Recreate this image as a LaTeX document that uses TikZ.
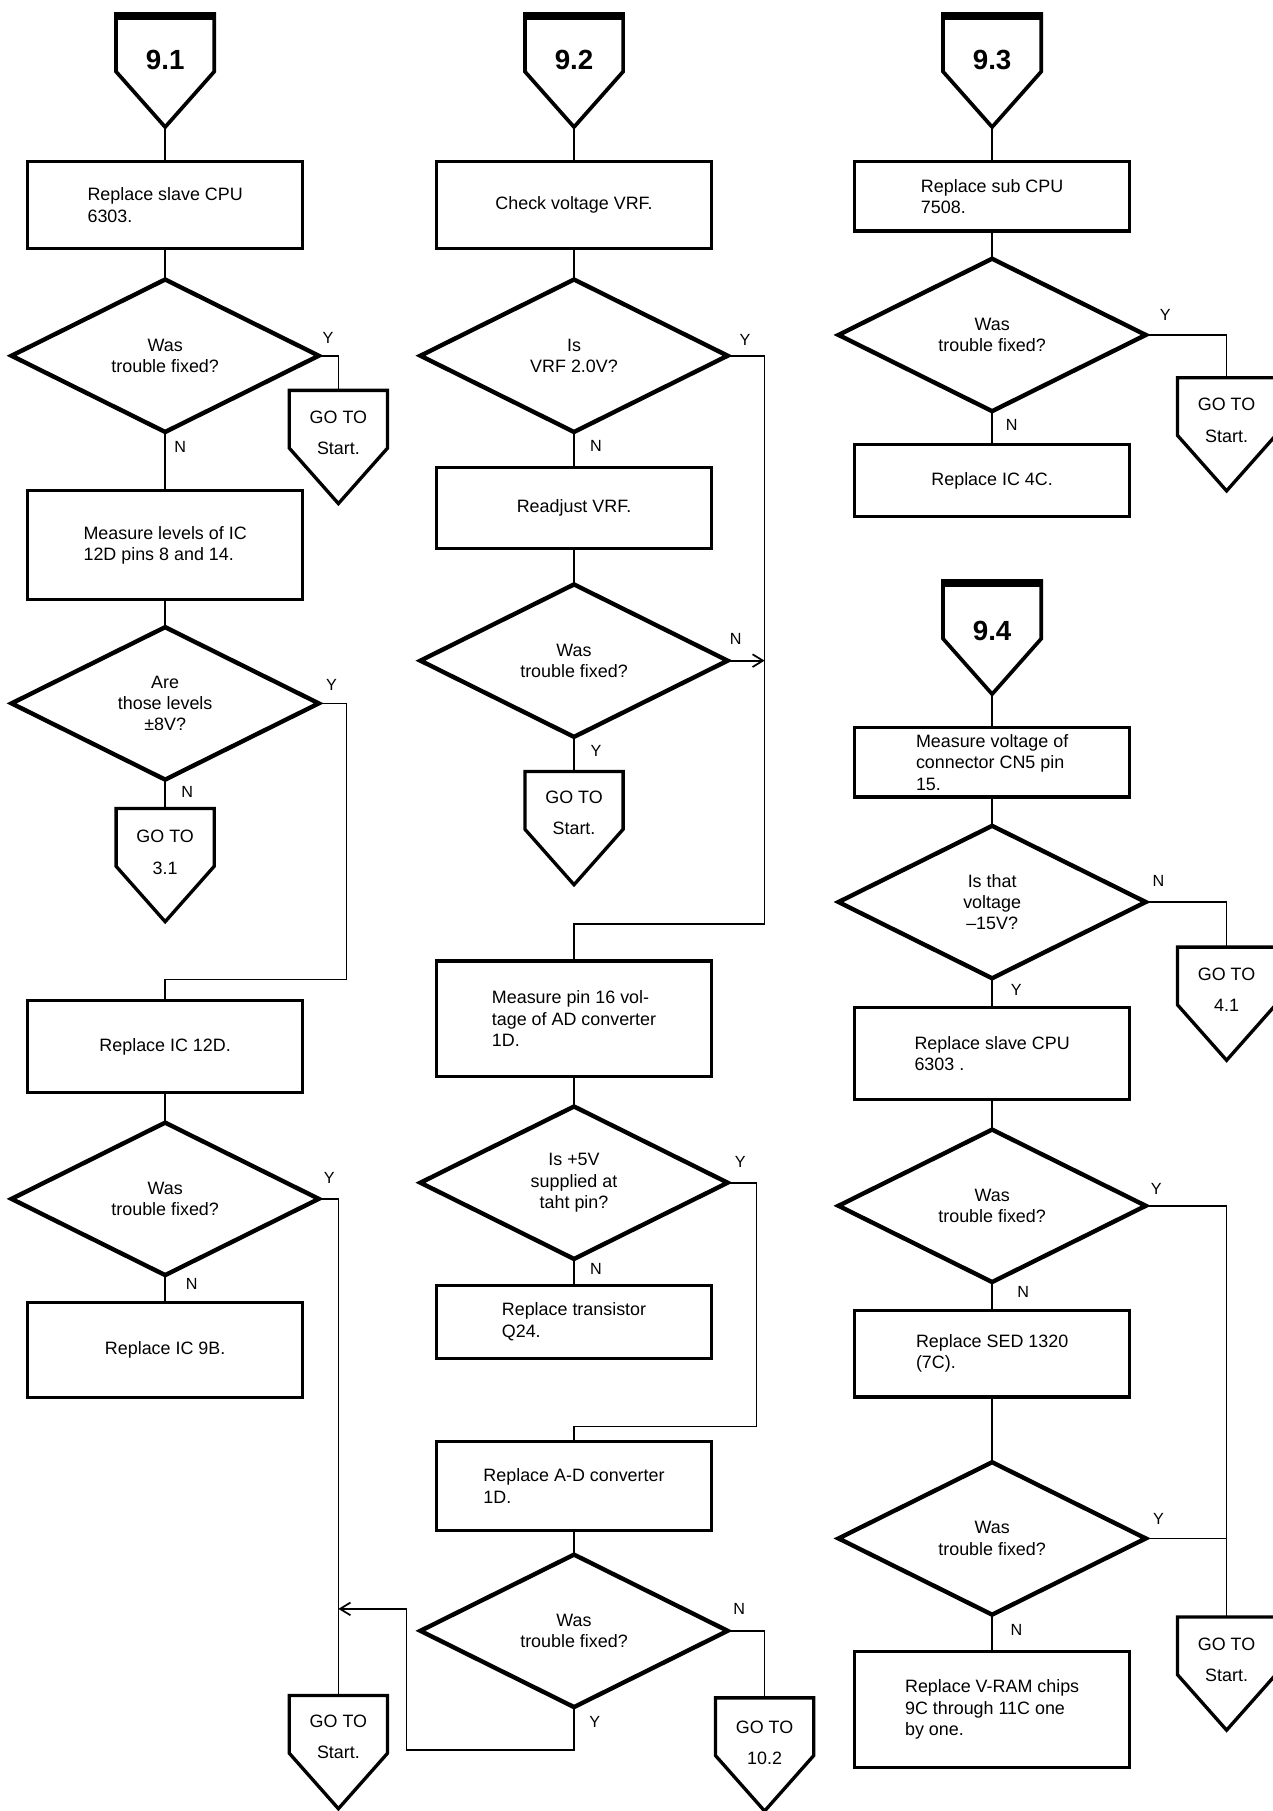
\documentclass[tikz,border=0pt]{standalone}
\usepackage{fontspec}
\setmainfont{Liberation Sans}
\usetikzlibrary{shapes.geometric,arrows.meta,calc}
\newcommand{\pentdraw}[2][]{%
  \draw[pentline,#1] (#2.north west) -- ($(#2.north west)+(0,50)$) -- (#2.south) -- ($(#2.north east)+(0,50)$) -- (#2.north east) -- cycle;}
\newcommand{\headtop}[1]{\draw[line width=6pt] ($(#1.north west)+(-1.5,2)$) -- ($(#1.north east)+(1.5,2)$);}
\begin{document}
\begin{tikzpicture}[x=1pt,y=-1pt,
  every node/.style={font=\fontsize{15.5}{18.5}\selectfont},
  box/.style={draw, line width=2.8pt, minimum width=238, inner sep=0, outer sep=0, align=left},
  dec/.style={draw, diamond, aspect=2, line width=3.8pt, minimum width=266, minimum height=132, inner sep=0, outer sep=0, align=center},
  pentbox/.style={minimum width=85, minimum height=98, inner sep=0, outer sep=0, anchor=north},
  pentline/.style={line width=2.9pt, line join=miter},
  headtxt/.style={font=\bfseries\fontsize{24}{28}\selectfont},
  gotxt/.style={align=center, font=\fontsize{15.5}{27}\selectfont},
  conn/.style={line width=1.5pt},
  arr/.style={-{Straight Barb[length=9pt,width=11pt,line width=1.5pt]}},
  lbl/.style={font=\fontsize{14}{16}\selectfont}
]
\fill[white] (0,0) rectangle (1102,1568);
\useasboundingbox (0,0) rectangle (1102,1568);

% ================= Column 1 (9.1) =================
\node[pentbox] (p91) at (143,12) {};
\pentdraw[line width=3.2pt]{p91}\headtop{p91}
\node[headtxt] (p91t) at ($(p91.north)+(0,40)$) {9.1};

\node[box, minimum height=75] (a1) at (143,177.5) {Replace slave CPU\\6303.};
\node[dec] (d1) at (143,308) {Was\\trouble fixed?};
\node[pentbox] (g1) at (293,338) {};
\pentdraw{g1}
\node[gotxt] (g1t) at ($(g1.north)+(0,37)$) {GO TO\\Start.};
\node[box, minimum height=94] (a2) at (143,472) {Measure levels of IC\\12D pins 8 and 14.};
\node[dec] (d2) at (143,609) {Are\\those levels\\±8V?};
\node[pentbox] (g2) at (143,700) {};
\pentdraw{g2}
\node[gotxt] (g2t) at ($(g2.north)+(0,38)$) {GO TO\\3.1};
\node[box, minimum height=80] (a3) at (143,906) {Replace IC 12D.};
\node[dec] (d3) at (143,1038) {Was\\trouble fixed?};
\node[box, minimum height=82] (a4) at (143,1169) {Replace IC 9B.};
\node[pentbox] (g3) at (293,1468) {};
\pentdraw{g3}
\node[gotxt] (g3t) at ($(g3.north)+(0,36)$) {GO TO\\Start.};

\coordinate (k1) at (300,848);
\coordinate (j2) at (293,1393);

\draw[conn] (p91.south) -- (a1.north);
\draw[conn] (a1.south) -- (d1.north);
\draw[conn] (d1.east) -| (g1.north);
\draw[conn] (d1.south) -- (a2.north);
\draw[conn] (a2.south) -- (d2.north);
\draw[conn] (d2.east) -| (k1) -| (a3.north);
\draw[conn] (d2.south) -- (g2.north);
\draw[conn] (a3.south) -- (d3.north);
\draw[conn] (d3.east) -| (g3.north);
\draw[conn] (d3.south) -- (a4.north);

\node[lbl] (l1) at (284,293) {Y};
\node[lbl] (l2) at (156,387) {N};
\node[lbl] (l3) at (287,593) {Y};
\node[lbl] (l4) at (162,686) {N};
\node[lbl] (l5) at (285,1020) {Y};
\node[lbl] (l6) at (166,1112) {N};

% ================= Column 2 (9.2) =================
\node[pentbox] (p92) at (497,12) {};
\pentdraw[line width=3.2pt]{p92}\headtop{p92}
\node[headtxt] (p92t) at ($(p92.north)+(0,40)$) {9.2};

\node[box, minimum height=75] (b1) at (497,177.5) {Check voltage VRF.};
\node[dec] (e1) at (497,308) {Is\\VRF 2.0V?};
\node[box, minimum height=70] (b2) at (497,440) {Readjust VRF.};
\node[dec] (e2) at (497,572) {Was\\trouble fixed?};
\node[pentbox] (g4) at (497,668) {};
\pentdraw{g4}
\node[gotxt] (g4t) at ($(g4.north)+(0,36)$) {GO TO\\Start.};
\node[box, minimum height=100] (b3) at (497,882) {Measure pin 16 vol-\\tage of AD converter\\1D.};
\node[dec] (e3) at (497,1024) {Is +5V\\supplied at\\taht pin?};
\node[box, minimum height=63] (b4) at (497,1144.5) {Replace transistor\\Q24.};
\node[box, minimum height=77] (b5) at (497,1286.5) {Replace A-D converter\\1D.};
\node[dec] (e4) at (497,1412) {Was\\trouble fixed?};
\node[pentbox] (g5) at (662,1470) {};
\pentdraw{g5}
\node[gotxt] (g5t) at ($(g5.north)+(0,39)$) {GO TO\\10.2};

\coordinate (j1) at (662,800);
\coordinate (k2) at (655,1235);
\coordinate (k3) at (352,1515);

\draw[conn] (p92.south) -- (b1.north);
\draw[conn] (b1.south) -- (e1.north);
\draw[conn] (e1.east) -| (j1) -| (b3.north);
\draw[conn] (e1.south) -- (b2.north);
\draw[conn] (b2.south) -- (e2.north);
\draw[conn,arr] (e2.east) -- (e2.east -| j1);
\draw[conn] (e2.south) -- (g4.north);
\draw[conn] (b3.south) -- (e3.north);
\draw[conn] (e3.east) -| (k2) -| (b5.north);
\draw[conn] (e3.south) -- (b4.north);
\draw[conn] (b5.south) -- (e4.north);
\draw[conn] (e4.east) -| (g5.north);
\draw[conn,arr] (e4.south) |- (k3) |- (j2);

\node[lbl] (m1) at (645,294) {Y};
\node[lbl] (m2) at (516,386) {N};
\node[lbl] (m3) at (637,553) {N};
\node[lbl] (m4) at (516,650) {Y};
\node[lbl] (m5) at (641,1006) {Y};
\node[lbl] (m6) at (516,1099) {N};
\node[lbl] (m7) at (640,1393) {N};
\node[lbl] (m8) at (515,1491) {Y};

% ================= Column 3 (9.3 / 9.4) =================
\node[pentbox] (p93) at (859,12) {};
\pentdraw[line width=3.2pt]{p93}\headtop{p93}
\node[headtxt] (p93t) at ($(p93.north)+(0,40)$) {9.3};

\node[box, minimum height=60] (c1) at (859,170) {Replace sub CPU\\7508.};
\node[dec] (f1) at (859,290) {Was\\trouble fixed?};
\node[pentbox] (g6) at (1062,327) {};
\pentdraw{g6}
\node[gotxt] (g6t) at ($(g6.north)+(0,37)$) {GO TO\\Start.};
\node[box, minimum height=62] (c2) at (859,416) {Replace IC 4C.};

\node[pentbox] (p94) at (859,503) {};
\pentdraw[line width=3.2pt]{p94}\headtop{p94}
\node[headtxt] (p94t) at ($(p94.north)+(0,43)$) {9.4};

\node[box, minimum height=60] (c3) at (859,660) {Measure voltage of\\connector CN5 pin\\15.};
\node[dec] (f2) at (859,781) {Is that\\voltage\\–15V?};
\node[pentbox] (g7) at (1062,820) {};
\pentdraw{g7}
\node[gotxt] (g7t) at ($(g7.north)+(0,37)$) {GO TO\\4.1};
\node[box, minimum height=80] (c4) at (859,912) {Replace slave CPU\\6303 .};
\node[dec] (f3) at (859,1044) {Was\\trouble fixed?};
\node[box, minimum height=75] (c5) at (859,1172) {Replace SED 1320\\(7C).};
\node[dec] (f4) at (859,1332) {Was\\trouble fixed?};
\node[pentbox] (g8) at (1062,1400) {};
\pentdraw{g8}
\node[gotxt] (g8t) at ($(g8.north)+(0,37)$) {GO TO\\Start.};
\node[box, minimum height=100] (c6) at (859,1480) {Replace V-RAM chips\\9C through 11C one\\by one.};

\draw[conn] (p93.south) -- (c1.north);
\draw[conn] (c1.south) -- (f1.north);
\draw[conn] (f1.east) -| (g6.north);
\draw[conn] (f1.south) -- (c2.north);
\draw[conn] (p94.south) -- (c3.north);
\draw[conn] (c3.south) -- (f2.north);
\draw[conn] (f2.east) -| (g7.north);
\draw[conn] (f2.south) -- (c4.north);
\draw[conn] (c4.south) -- (f3.north);
\draw[conn] (f3.east) -| (g8.north);
\draw[conn] (f3.south) -- (c5.north);
\draw[conn] (c5.south) -- (f4.north);
\draw[conn] (f4.east) -- (f4.east -| g8.north);
\draw[conn] (f4.south) -- (c6.north);

\node[lbl] (n1) at (1009,273) {Y};
\node[lbl] (n2) at (876,368) {N};
\node[lbl] (n3) at (1003,763) {N};
\node[lbl] (n4) at (880,857) {Y};
\node[lbl] (n5) at (1001,1029) {Y};
\node[lbl] (n6) at (886,1119) {N};
\node[lbl] (n7) at (1003,1315) {Y};
\node[lbl] (n8) at (880,1411) {N};
\end{tikzpicture}
\end{document}
